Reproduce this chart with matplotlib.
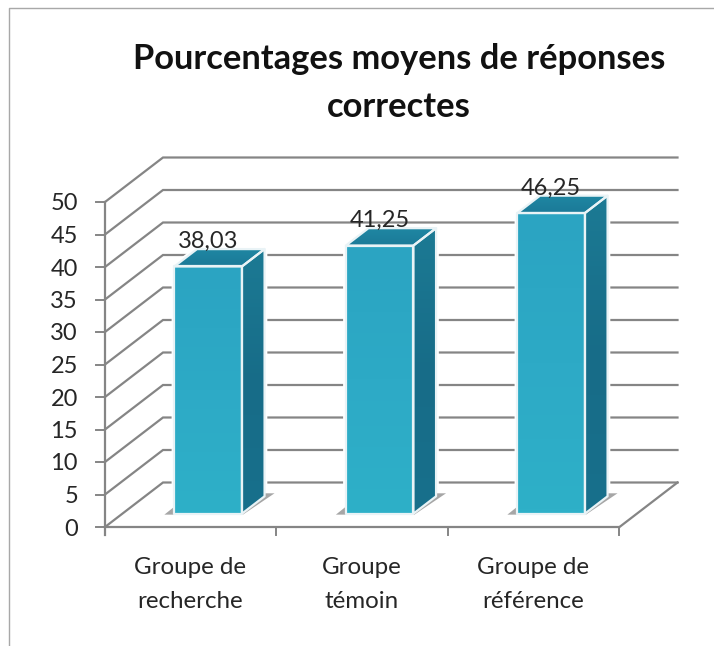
import numpy as np
import matplotlib
matplotlib.use("Agg")
import matplotlib.pyplot as plt
from matplotlib.patches import Polygon
from matplotlib.colors import LinearSegmentedColormap
from matplotlib.lines import Line2D

title = "Pourcentages moyens de réponses\ncorrectes"
categories = ["Groupe de\nrecherche", "Groupe\ntémoin", "Groupe de\nréférence"]
values = [38.03, 41.25, 46.25]
value_labels = ["38,03", "41,25", "46,25"]
y_ticks = [0, 5, 10, 15, 20, 25, 30, 35, 40, 45, 50]

W, H = 714, 646
X0, Y0 = 105.0, 527.0
CAT_PX, UNIT_PX = 171.5, 6.5
DX = 58.0 / CAT_PX       # depth vector, axis units
DY = 44.5 / UNIT_PX
D_FRONT, D_BACK = 0.30, 0.69
BAR_L, BAR_R = 0.303, 0.697

plt.rcParams["font.family"] = ["Lato", "DejaVu Sans"]
fig = plt.figure(figsize=(W / 100, H / 100), dpi=100)
ax = fig.add_axes([0, 0, 1, 1])
ax.axis("off")
xlim = (-X0 / CAT_PX, (W - X0) / CAT_PX)
ylim = (-(H - Y0) / UNIT_PX, Y0 / UNIT_PX)
px_x = 1 / CAT_PX
px_y = 1 / UNIT_PX

GRID = "#858585"
TEXT = "#262626"
n = len(categories)
ymax = y_ticks[-1]

# frame of the chart area
fig.add_artist(Line2D([8.5 / W, 8.5 / W, 1], [0, 1 - 7.5 / H, 1 - 7.5 / H], color="#a8a8a8", lw=1))

# walls
for v in y_ticks:
    ax.plot([0, DX, n + DX], [v, v + DY, v + DY], color=GRID, lw=1.6, zorder=1, solid_joinstyle="miter")
ax.plot([n, n + DX], [0, DY], color=GRID, lw=1.6, zorder=1)
ax.plot([0, 0], [-8 * px_y, ymax], color=GRID, lw=1.6, zorder=2)
ax.plot([0, n], [0, 0], color=GRID, lw=1.6, zorder=2)
for i in range(n + 1):
    ax.plot([i, i], [-8 * px_y, 0], color=GRID, lw=1.4, zorder=2)
for v in y_ticks:
    ax.plot([-9 * px_x, 0], [v, v], color=GRID, lw=1.4, zorder=2)
    ax.text(-27 * px_x, v, str(v), ha="right", va="center_baseline", fontsize=17, color=TEXT, zorder=6)

cm_front = LinearSegmentedColormap.from_list("f", ["#2ba4c2", "#2daac6", "#2eb0c8"])
cm_side = LinearSegmentedColormap.from_list("s", ["#1c7a94", "#176c88", "#18708c"])
cm_top = LinearSegmentedColormap.from_list("t", ["#1f87a3", "#1b7a98"])
grad = np.linspace(0, 1, 64).reshape(-1, 1)

for i, v in enumerate(values):
    l, r = i + BAR_L + D_FRONT * DX, i + BAR_R + D_FRONT * DX
    b = D_FRONT * DY
    t = v + b
    ddx, ddy = (D_BACK - D_FRONT) * DX, (D_BACK - D_FRONT) * DY
    front = [(l, b), (r, b), (r, t), (l, t)]
    side = [(r, b), (r + ddx, b + ddy), (r + ddx, t + ddy), (r, t)]
    top = [(l, t), (r, t), (r + ddx, t + ddy), (l + ddx, t + ddy)]
    # white halo hiding the grid
    outline = [(l, b), (r, b), (r + ddx, b + ddy), (r + ddx, t + ddy), (l + ddx, t + ddy), (l, t)]
    ax.add_patch(Polygon(outline, closed=True, fc="white", ec="white", lw=4, zorder=3))
    # floor shadow
    sh = [(l - 10 * px_x, b - 1 * px_y), (r + 1 * px_x, b - 1 * px_y),
          (r + ddx + 10 * px_x, b + ddy + 3 * px_y), (r, b + ddy + 3 * px_y), (l, b + 7 * px_y)]
    ax.add_patch(Polygon(sh, closed=True, fc="#a6a6a6", ec="none", zorder=3.5))
    for poly, cm in ((front, cm_front), (side, cm_side), (top, cm_top)):
        xs, ys = zip(*poly)
        im = ax.imshow(grad, cmap=cm, aspect="auto", origin="upper",
                       extent=(min(xs), max(xs), min(ys), max(ys)), zorder=4)
        patch = Polygon(poly, closed=True, transform=ax.transData, fc="none", ec="none")
        ax.add_patch(patch)
        im.set_clip_path(patch)
        ax.add_patch(Polygon(poly, closed=True, fc="none", ec="#e9f3f6", lw=1.6, zorder=5, joinstyle="round"))
    ax.text((l + r) / 2, t + ddy + 1 * px_y, value_labels[i], ha="center", va="baseline",
            fontsize=17, color=TEXT, zorder=6)

for i, c in enumerate(categories):
    l1, l2 = c.split("\n")
    ax.text(i + 0.495, -(568 - Y0) * px_y, l1, ha="center", va="center", fontsize=17.4, color=TEXT)
    ax.text(i + 0.495, -(601 - Y0) * px_y, l2, ha="center", va="center", fontsize=17.4, color=TEXT)

fig.text(399 / W, 1 - 83 / H, title, ha="center", va="center", fontsize=24.8, fontweight="bold",
         color="#111111", linespacing=1.6)

ax.set_xlim(*xlim)
ax.set_ylim(*ylim)
fig.savefig("out.png", dpi=100, facecolor="white")
